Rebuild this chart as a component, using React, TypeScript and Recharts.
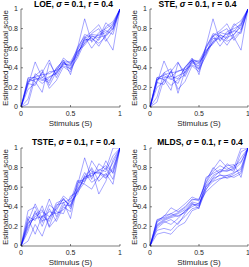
import React from 'react';
import { LineChart, Line, XAxis, YAxis } from 'recharts';

const stimulus = [0, 0.071, 0.143, 0.214, 0.286, 0.357, 0.429, 0.5, 0.571, 0.643, 0.714, 0.786, 0.857, 0.929, 1];
const xTicks = [0, 0.5, 1];
const yTicks = [0, 0.2, 0.4, 0.6, 0.8, 1];

const loeSeries = [
  [0, 0.27, 0.31, 0.33, 0.34, 0.38, 0.46, 0.40, 0.58, 0.70, 0.74, 0.73, 0.76, 0.83, 1],
  [0, 0.03, 0.30, 0.24, 0.30, 0.35, 0.44, 0.43, 0.55, 0.68, 0.70, 0.65, 0.72, 0.80, 1],
  [0, 0.22, 0.46, 0.30, 0.27, 0.39, 0.48, 0.33, 0.60, 0.90, 0.66, 0.76, 0.80, 0.85, 1],
  [0, 0.29, 0.26, 0.15, 0.45, 0.33, 0.45, 0.45, 0.52, 0.71, 0.77, 0.84, 0.70, 0.58, 1],
  [0, 0.25, 0.32, 0.38, 0.22, 0.36, 0.50, 0.44, 0.57, 0.63, 0.73, 0.68, 0.82, 0.87, 1],
  [0, 0.18, 0.24, 0.35, 0.48, 0.30, 0.44, 0.42, 0.61, 0.72, 0.60, 0.70, 0.86, 0.79, 1],
  [0, 0.26, 0.28, 0.30, 0.36, 0.37, 0.42, 0.39, 0.50, 0.66, 0.75, 0.80, 0.67, 0.78, 1],
  [0, 0.08, 0.34, 0.28, 0.25, 0.40, 0.47, 0.46, 0.59, 0.74, 0.71, 0.62, 0.74, 0.84, 1],
  [0, 0.24, 0.22, 0.36, 0.19, 0.27, 0.41, 0.36, 0.53, 0.69, 0.68, 0.74, 0.78, 0.74, 1],
  [0, 0.30, 0.30, 0.27, 0.31, 0.34, 0.46, 0.38, 0.56, 0.65, 0.72, 0.71, 0.73, 0.81, 1],
];

const steSeries = [
  [0, 0.28, 0.33, 0.35, 0.36, 0.40, 0.48, 0.40, 0.60, 0.72, 0.76, 0.74, 0.77, 0.86, 1],
  [0, 0.05, 0.29, 0.22, 0.28, 0.33, 0.46, 0.44, 0.56, 0.66, 0.71, 0.67, 0.71, 0.78, 1],
  [0, 0.24, 0.47, 0.31, 0.29, 0.40, 0.50, 0.33, 0.62, 0.90, 0.67, 0.77, 0.80, 0.84, 1],
  [0, 0.30, 0.28, 0.17, 0.45, 0.35, 0.47, 0.46, 0.54, 0.73, 0.78, 0.85, 0.71, 0.58, 1],
  [0, 0.27, 0.35, 0.39, 0.14, 0.37, 0.49, 0.45, 0.58, 0.64, 0.74, 0.69, 0.83, 0.88, 1],
  [0, 0.20, 0.26, 0.36, 0.46, 0.31, 0.45, 0.42, 0.62, 0.73, 0.62, 0.72, 0.85, 0.79, 1],
  [0, 0.28, 0.30, 0.31, 0.37, 0.38, 0.43, 0.39, 0.52, 0.67, 0.76, 0.80, 0.68, 0.77, 1],
  [0, 0.10, 0.35, 0.29, 0.24, 0.41, 0.48, 0.47, 0.60, 0.75, 0.72, 0.63, 0.74, 0.84, 1],
  [0, 0.25, 0.23, 0.37, 0.18, 0.26, 0.42, 0.36, 0.54, 0.70, 0.69, 0.75, 0.78, 0.75, 1],
  [0, 0.30, 0.32, 0.28, 0.32, 0.35, 0.47, 0.38, 0.57, 0.66, 0.73, 0.71, 0.74, 0.82, 1],
];

const tsteSeries = [
  [0, 0.20, 0.30, 0.35, 0.30, 0.38, 0.48, 0.40, 0.58, 0.70, 0.74, 0.75, 0.72, 0.85, 1],
  [0, 0.05, 0.22, 0.10, 0.30, 0.35, 0.33, 0.51, 0.55, 0.65, 0.87, 0.76, 0.70, 0.80, 1],
  [0, 0.25, 0.43, 0.28, 0.48, 0.30, 0.45, 0.28, 0.62, 0.90, 0.68, 0.84, 0.78, 1.0, 1],
  [0, 0.30, 0.26, 0.41, 0.20, 0.40, 0.51, 0.45, 0.53, 0.72, 0.78, 0.53, 0.66, 0.88, 1],
  [0, 0.15, 0.36, 0.20, 0.38, 0.25, 0.40, 0.35, 0.66, 0.63, 0.58, 0.71, 0.80, 0.68, 1],
  [0, 0.28, 0.12, 0.31, 0.25, 0.42, 0.44, 0.48, 0.60, 0.75, 0.65, 0.70, 0.87, 0.74, 1],
  [0, 0.36, 0.40, 0.24, 0.42, 0.36, 0.49, 0.38, 0.57, 0.68, 0.80, 0.66, 0.74, 0.63, 1],
  [0, 0.18, 0.32, 0.37, 0.19, 0.28, 0.42, 0.41, 0.64, 0.69, 0.71, 0.78, 0.76, 0.92, 1],
  [0, 0.24, 0.28, 0.30, 0.35, 0.33, 0.37, 0.46, 0.67, 0.66, 0.76, 0.74, 0.69, 0.78, 1],
  [0, 0.22, 0.34, 0.26, 0.28, 0.44, 0.47, 0.42, 0.56, 0.71, 0.72, 0.77, 0.82, 0.75, 1],
];

const mldsSeries = [
  [0, 0.22, 0.27, 0.30, 0.33, 0.37, 0.45, 0.43, 0.62, 0.72, 0.76, 0.77, 0.78, 0.85, 1],
  [0, 0.26, 0.30, 0.39, 0.35, 0.40, 0.48, 0.46, 0.68, 0.78, 0.88, 0.80, 0.76, 0.96, 1],
  [0, 0.16, 0.18, 0.16, 0.24, 0.30, 0.38, 0.40, 0.58, 0.66, 0.69, 0.70, 0.74, 0.80, 1],
  [0, 0.24, 0.31, 0.33, 0.37, 0.43, 0.50, 0.47, 0.65, 0.80, 0.74, 0.84, 0.79, 0.90, 1],
  [0, 0.18, 0.24, 0.27, 0.22, 0.33, 0.42, 0.42, 0.60, 0.69, 0.72, 0.72, 0.70, 0.74, 1],
  [0, 0.27, 0.29, 0.33, 0.30, 0.35, 0.44, 0.38, 0.70, 0.74, 0.78, 0.76, 0.80, 1.0, 1],
  [0, 0.20, 0.25, 0.22, 0.28, 0.36, 0.40, 0.44, 0.55, 0.62, 0.68, 0.72, 0.75, 0.78, 1],
  [0, 0.25, 0.28, 0.31, 0.34, 0.39, 0.47, 0.48, 0.64, 0.76, 0.82, 0.78, 0.82, 0.86, 1],
  [0, 0.12, 0.14, 0.12, 0.20, 0.24, 0.36, 0.39, 0.57, 0.70, 0.76, 0.82, 0.83, 0.70, 1],
  [0, 0.21, 0.26, 0.29, 0.31, 0.34, 0.43, 0.41, 0.61, 0.67, 0.73, 0.69, 0.72, 0.76, 1],
];

const FONT = '"Liberation Sans", Arial, Helvetica, sans-serif';
const AXIS = '#262626';
const tickStyle = { fontSize: 7, fill: AXIS, fontFamily: FONT };

function buildRows(series: number[][]) {
  return stimulus.map((s, i) => {
    const row: Record<string, number> = { x: s };
    series.forEach((ser, k) => {
      row['l' + k] = ser[i];
    });
    return row;
  });
}

function Panel({ series, left, top, width, right }: { series: number[][]; left: number; top: number; width: number; right: number }) {
  const rows = buildRows(series);
  return (
    <div style={{ position: 'absolute', left, top }}>
      <LineChart width={width} height={133} data={rows} margin={{ top: 9, right, left: 0, bottom: 0 }}>
        <XAxis
          dataKey="x"
          type="number"
          domain={[0, 1]}
          ticks={xTicks}
          tick={tickStyle}
          tickSize={-2}
          tickMargin={6}
          height={26}
          stroke={AXIS}
          strokeWidth={0.6}
          allowDataOverflow
        />
        <XAxis
          xAxisId="top"
          dataKey="x"
          type="number"
          orientation="top"
          domain={[0, 1]}
          ticks={xTicks}
          tickFormatter={() => ''}
          tickSize={-2}
          height={0}
          stroke={AXIS}
          strokeWidth={0.6}
        />
        <YAxis
          type="number"
          domain={[0, 1]}
          ticks={yTicks}
          tick={tickStyle}
          tickSize={-2}
          tickMargin={5}
          width={21}
          stroke={AXIS}
          strokeWidth={0.6}
          allowDataOverflow
        />
        <YAxis
          yAxisId="right"
          type="number"
          orientation="right"
          domain={[0, 1]}
          ticks={yTicks}
          tickFormatter={() => ''}
          tickSize={-2}
          width={0}
          stroke={AXIS}
          strokeWidth={0.6}
        />
        {series.map((_, k) => (
          <Line
            key={k}
            dataKey={'l' + k}
            stroke="#0000ff"
            strokeOpacity={0.5}
            strokeWidth={0.7}
            dot={false}
            activeDot={false}
            isAnimationActive={false}
          />
        ))}
      </LineChart>
    </div>
  );
}

function Title({ x, y, name }: { x: number; y: number; name: string }) {
  return (
    <text x={x} y={y} textAnchor="middle" fontSize={8.5} fontWeight="bold" fill="#000" fontFamily={FONT}>
      {name}, <tspan fontStyle="italic">σ</tspan> = 0.1, r = 0.4
    </text>
  );
}

function XLabel({ x, y }: { x: number; y: number }) {
  return (
    <text x={x} y={y} textAnchor="middle" fontSize={8} fill={AXIS} fontFamily={FONT}>
      Stimulus (S)
    </text>
  );
}

function YLabel({ x, y }: { x: number; y: number }) {
  return (
    <text x={x} y={y} textAnchor="middle" fontSize={8} fill={AXIS} fontFamily={FONT} transform={`rotate(-90 ${x} ${y})`}>
      Estimated perceptual scale
    </text>
  );
}

export default function App() {
  return (
    <div style={{ position: 'absolute', left: 0, top: 0, width: 249, height: 267, background: '#fff', overflow: 'hidden' }}>
      <Panel series={loeSeries} left={0} top={0} width={123} right={3} />
      <Panel series={steSeries} left={129} top={0} width={121} right={2} />
      <Panel series={tsteSeries} left={0} top={139} width={123} right={3} />
      <Panel series={mldsSeries} left={129} top={139} width={121} right={2} />
      <svg width={249} height={267} style={{ position: 'absolute', left: 0, top: 0, pointerEvents: 'none' }}>
        <Title x={73.5} y={6.5} name="LOE" />
        <Title x={197.5} y={6.5} name="STE" />
        <Title x={73.5} y={144.5} name="TSTE" />
        <Title x={200} y={144.5} name="MLDS" />
        <XLabel x={70.5} y={126} />
        <XLabel x={199} y={126} />
        <XLabel x={70.5} y={265} />
        <XLabel x={199} y={265} />
        <YLabel x={7.5} y={58} />
        <YLabel x={136.5} y={58} />
        <YLabel x={7.5} y={197} />
        <YLabel x={136.5} y={197} />
      </svg>
    </div>
  );
}
